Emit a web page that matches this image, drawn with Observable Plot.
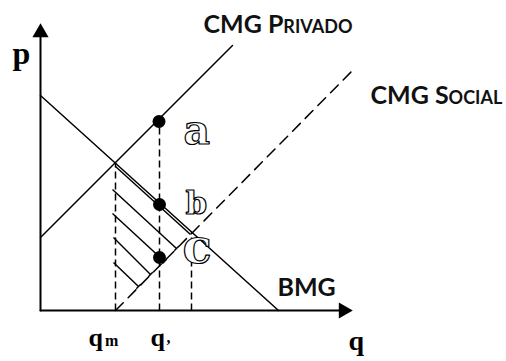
<!DOCTYPE html>
<html>
<head>
<meta charset="utf-8">
<script src="https://cdn.jsdelivr.net/npm/d3@7"></script>
<script src="https://cdn.jsdelivr.net/npm/@observablehq/plot@0.6"></script>
<style>
  html, body { margin: 0; padding: 0; background: #fff; }
  #chart svg { display: block; }
</style>
</head>
<body>
<div id="chart"></div>
<script>
// Axes extents (q, p)
const axisQ = [0, 30.3];
const axisP = [0, 27.8];

// Curves (endpoints)
const bmgQ = [0, 23.8];
const bmgP = [21.5, 0];
const privadoQ = [0, 19.2];
const privadoP = [7.3, 26.5];
const socialQ = [7.5, 31.3];
const socialP = [0, 24.1];

// Vertical dashed guides
const guideQ = [7.5, 11.9, 15.1];
const guideTopP = [14.7, 18.9, 7.9];

// Points a, b, c
const pointQ = [11.85, 11.9, 11.9];
const pointP = [18.9, 10.6, 5.3];

// Hatch lines (start and end)
const hatchStartQ = [7.5, 7.2, 7.2, 7.3, 7.3];
const hatchStartP = [14.4, 12.1, 9.7, 7.3, 4.8];
const hatchEndQ = [15.0, 13.6, 12.4, 11.0, 9.8];
const hatchEndP = [7.6, 6.2, 4.9, 3.6, 2.4];

// Labels
const curveLabels = ["CMG Privado", "CMG Social", "BMG"];
const curveLabelQ = [16.3, 33.0, 23.7];
const curveLabelP = [27.8, 20.7, 1.5];

const pointLabels = ["a", "b", "c"];
const pointLabelQ = [14.3, 14.5, 14.2];
const pointLabelP = [16.7, 9.7, 4.8];
const pointLabelSize = [41, 31, 48];

const axisLabels = ["p", "q"];
const axisLabelQ = [-2.8, 30.8];
const axisLabelP = [24.7, -3.9];
const axisLabelSize = [32, 28];

const tickLabels = ["q", "m", "q", ","];
const tickLabelQ = [4.8, 6.45, 11.0, 12.6];
const tickLabelP = [-3.5, -3.5, -3.5, -3.25];
const tickLabelSize = [26, 16, 26, 16];

const seg = (qs, ps) => qs.map((q, i) => ({q, p: ps[i]}));
const hatch = hatchStartQ.map((q, i) => ({q1: q, p1: hatchStartP[i], q2: hatchEndQ[i], p2: hatchEndP[i]}));
const guides = guideQ.map((q, i) => ({q, top: guideTopP[i]}));
const points = pointQ.map((q, i) => ({q, p: pointP[i]}));
const zip = (t, qs, ps, extra) => t.map((text, i) => ({text, q: qs[i], p: ps[i], size: extra ? extra[i] : 0}));

const serif = "'Liberation Serif', 'DejaVu Serif', serif";

const chart = Plot.plot({
  width: 506,
  height: 361,
  margin: 0,
  x: {domain: [-4, 46.6], axis: null},
  y: {domain: [-5.1, 31], axis: null},
  style: {background: "#fff"},
  marks: [
    // hatch
    Plot.link(hatch, {x1: "q1", y1: "p1", x2: "q2", y2: "p2", stroke: "#000", strokeWidth: 1.5}),
    Plot.link(hatch.slice(1), {x1: d => d.q2 - 0.22, y1: d => d.p2 - 0.22, x2: d => d.q2 + 0.22, y2: d => d.p2 + 0.22, stroke: "#000", strokeWidth: 1.5}),
    // vertical guides
    Plot.link(guides, {x1: "q", y1: 0, x2: "q", y2: "top", stroke: "#000", strokeWidth: 1.5, strokeDasharray: "7,4"}),
    // curves
    Plot.line(seg(bmgQ, bmgP), {x: "q", y: "p", stroke: "#000", strokeWidth: 1.5}),
    Plot.line(seg(privadoQ, privadoP), {x: "q", y: "p", stroke: "#000", strokeWidth: 1.5}),
    Plot.line(seg(socialQ, socialP), {x: "q", y: "p", stroke: "#000", strokeWidth: 1.5, strokeDasharray: "11,7"}),
    // axes
    Plot.line(seg(axisQ, [0, 0]), {x: "q", y: "p", stroke: "#000", strokeWidth: 2}),
    Plot.line(seg([0, 0], axisP), {x: "q", y: "p", stroke: "#000", strokeWidth: 2}),
    Plot.dot([{q: 0, p: axisP[1]}], {x: "q", y: "p", symbol: "triangle", r: 6, fill: "#000", stroke: null}),
    Plot.dot([{q: axisQ[1], p: 0}], {x: "q", y: "p", symbol: "triangle", r: 6, fill: "#000", stroke: null, rotate: 90}),
    // points
    Plot.dot(points, {x: "q", y: "p", r: 6.5, fill: "#000", stroke: null}),
    // labels
    Plot.text(zip(curveLabels, curveLabelQ, curveLabelP), {x: "q", y: "p", text: "text", textAnchor: "start", lineAnchor: "bottom", fontSize: 25, fontWeight: "bold", fontVariant: "small-caps", fontFamily: "Lato, sans-serif", fill: "#111"}),
    Plot.text(zip(pointLabels, pointLabelQ, pointLabelP, pointLabelSize), {x: "q", y: "p", text: "text", textAnchor: "start", lineAnchor: "bottom", fontSize: d => d.size, fontWeight: "bold", fontFamily: "'DejaVu Serif', serif", fill: "#fff", stroke: "#000", strokeWidth: 1.2, paintOrder: "normal"}),
    Plot.text(zip(axisLabels, axisLabelQ, axisLabelP, axisLabelSize), {x: "q", y: "p", text: "text", textAnchor: "start", lineAnchor: "bottom", fontSize: d => d.size, fontWeight: "bold", fontFamily: serif, fill: "#000"}),
    Plot.text(zip(tickLabels, tickLabelQ, tickLabelP, tickLabelSize), {x: "q", y: "p", text: "text", textAnchor: "start", lineAnchor: "bottom", fontSize: d => d.size, fontWeight: "bold", fontFamily: serif, fill: "#000"})
  ]
});
document.getElementById("chart").appendChild(chart);
</script>
</body>
</html>
